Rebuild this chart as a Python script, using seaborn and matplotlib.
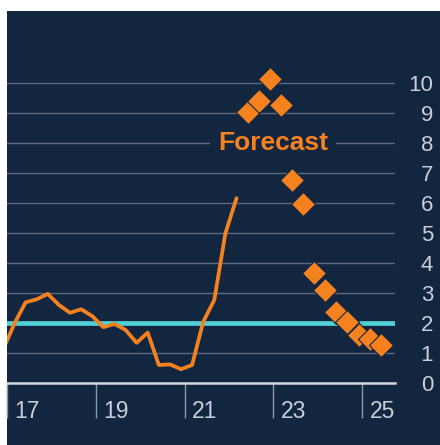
import pandas as pd
import seaborn as sns
import matplotlib.pyplot as plt
from matplotlib.patches import Rectangle

# actual inflation, quarterly (x = year, 20xx shortened)
actual_t = [16.92, 17.17, 17.42, 17.67, 17.92, 18.17, 18.42, 18.67, 18.92, 19.17, 19.42,
            19.67, 19.92, 20.17, 20.42, 20.67, 20.92, 21.17, 21.42, 21.67, 21.92, 22.17]
actual_v = [1.15, 2.0, 2.70, 2.80, 2.98, 2.61, 2.35, 2.47, 2.24, 1.87, 1.98,
            1.78, 1.35, 1.69, 0.61, 0.63, 0.47, 0.61, 2.05, 2.78, 5.0, 6.17]

# forecast path
forecast_t = [22.42, 22.67, 22.92, 23.17, 23.42, 23.67, 23.92, 24.17, 24.42, 24.67, 24.92, 25.17, 25.42]
forecast_v = [9.05, 9.42, 10.15, 9.28, 6.78, 5.98, 3.67, 3.11, 2.39, 2.05, 1.61, 1.47, 1.28]

target = 2
xtick_years = [17, 19, 21, 23, 25]
yticks = list(range(0, 11))

navy = '#13263f'
orange = '#f5821f'
cyan = '#4fd0d6'
grid_c = '#5b6a80'
text_c = '#c8cfd9'

sns.set_theme(style='dark', rc={'axes.facecolor': navy, 'figure.facecolor': 'white'})
plt.rcParams['font.family'] = ['Liberation Sans', 'DejaVu Sans']

df_act = pd.DataFrame({'t': actual_t, 'v': actual_v})
df_fc = pd.DataFrame({'t': forecast_t, 'v': forecast_v})

fig = plt.figure(figsize=(4.4, 4.45), dpi=100)
fig.add_artist(Rectangle((7 / 440, 0), 433 / 440, 434 / 445, transform=fig.transFigure,
                         facecolor=navy, edgecolor='none', zorder=-5))
ax = fig.add_axes([7 / 440, 61.7 / 445, 388 / 440, 372.3 / 445])

ax.axhline(target, color=cyan, lw=3.4, zorder=2)
sns.lineplot(data=df_act, x='t', y='v', color=orange, lw=2.7, ax=ax, zorder=3)
sns.scatterplot(data=df_fc, x='t', y='v', marker='D', s=150, color=orange,
                edgecolor=navy, linewidth=0.8, ax=ax, zorder=4)

ax.text(23.0, 8, 'Forecast', color=orange, fontsize=19, fontweight='bold',
        ha='center', va='center', zorder=3,
        bbox=dict(boxstyle='square,pad=0.3', fc=navy, ec='none'))

ax.set_xlim(17.05, 25.74)
ax.set_ylim(0, 12.41)
ax.set_xlabel('')
ax.set_ylabel('')

for s in ['left', 'top', 'right']:
    ax.spines[s].set_visible(False)
ax.spines['bottom'].set_color('#d3d7de')
ax.spines['bottom'].set_linewidth(1.8)

ax.yaxis.grid(True, color=grid_c, lw=1.0)
ax.xaxis.grid(False)
ax.set_axisbelow(True)

ax.yaxis.tick_right()
ax.set_yticks(yticks)
ax.set_yticklabels([str(v) for v in yticks])
ax.tick_params(axis='y', length=0, pad=27.4, labelsize=16, labelcolor=text_c)
plt.setp(ax.get_yticklabels(), ha='right')

ax.set_xticks([y + 0.45 for y in xtick_years])
ax.set_xticklabels([str(y) for y in xtick_years])
ax.set_xticks(xtick_years, minor=True)
ax.tick_params(axis='x', which='major', length=0, pad=12, labelsize=16.5, labelcolor=text_c)
ax.tick_params(axis='x', which='minor', bottom=True, length=25, width=1, color='#8d97a6')

fig.savefig('out.png', dpi=100)
